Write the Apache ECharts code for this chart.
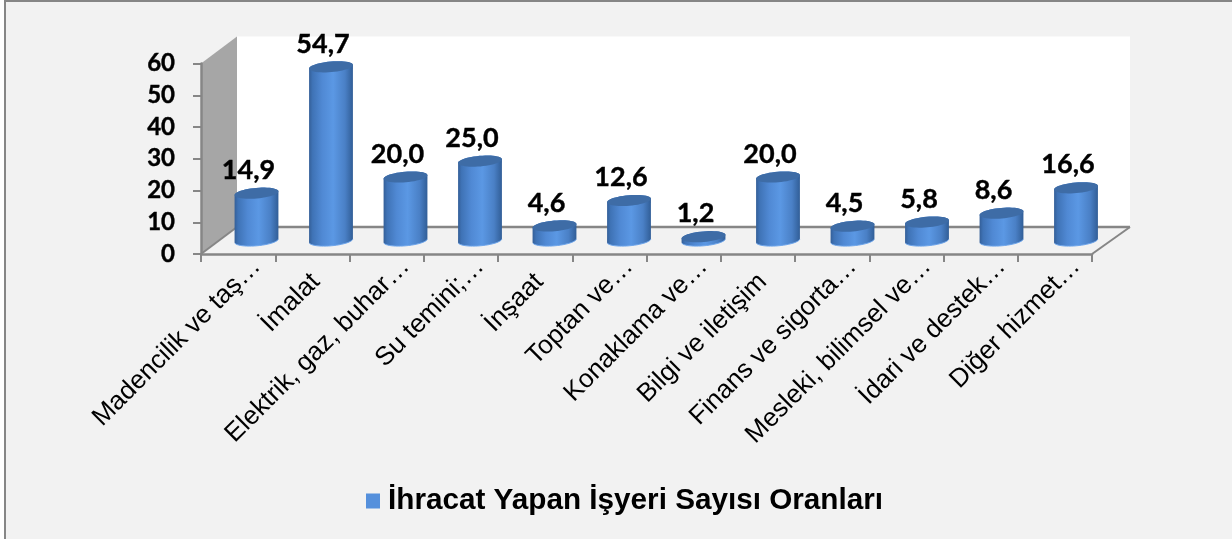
<!DOCTYPE html>
<html><head><meta charset="utf-8">
<style>html,body{margin:0;padding:0;background:#fff}#c{width:1232px;height:539px}</style>
<script src="https://cdn.jsdelivr.net/npm/echarts@6/dist/echarts.min.js"></script>
</head><body><div id="c"></div>
<script>
const categories = ['Madencilik ve taş…','İmalat','Elektrik, gaz, buhar…','Su temini;…','İnşaat','Toptan ve…','Konaklama ve…','Bilgi ve iletişim','Finans ve sigorta…','Mesleki, bilimsel ve…','İdari ve destek…','Diğer hizmet…'];
const values = [14.9,54.7,20.0,25.0,4.6,12.6,1.2,20.0,4.5,5.8,8.6,16.6];
const seriesName = 'İhracat Yapan İşyeri Sayısı Oranları';
const yTicks = {min:0,max:60,interval:10};

const chart = echarts.init(document.getElementById('c'),null,{renderer:'canvas'});
const DX=36, DXR=38, DY=-27, RX=22, RY=5.3, TILT=5*Math.PI/180;
const AXIS='#868686';

function ell(cx,cy,from,to,n){
  const pts=[];
  for(let i=0;i<=n;i++){
    const t=from+(to-from)*i/n, a=RX*Math.cos(t), b=RY*Math.sin(t);
    pts.push([cx+a*Math.cos(TILT)+b*Math.sin(TILT), cy-a*Math.sin(TILT)+b*Math.cos(TILT)]);
  }
  return pts;
}
function renderFrame(params){
  const g=params.coordSys, x0=g.x, x1=g.x+g.width, y0=g.y, y1=g.y+g.height;
  const line=(p,q,w)=>({type:'line',shape:{x1:p[0],y1:p[1],x2:q[0],y2:q[1]},style:{stroke:AXIS,lineWidth:w}});
  return {type:'group',children:[
    {type:'rect',shape:{x:x0+DX,y:y0+DY,width:x1+DXR-x0-DX,height:g.height},style:{fill:'#fff'}},
    {type:'polygon',shape:{points:[[x0,y0],[x0+DX,y0+DY],[x0+DX,y1+DY],[x0,y1]]},style:{fill:'#a6a6a6'}},
    {type:'polygon',shape:{points:[[x0,y1],[x0+DX,y1+DY],[x1+DXR,y1+DY],[x1,y1]]},style:{fill:'#f2f2f2'}},
    line([x0+DX,y1+DY],[x1+DXR,y1+DY],2.5),
    line([x0,y1],[x0+DX,y1+DY],2),
    line([x1,y1],[x1+DXR,y1+DY],2)
  ]};
}
function renderBar(params,api){
  const v=api.value(1), top=api.coord([api.value(0),v]), base=api.coord([api.value(0),0]);
  const cx=base[0];
  const body=ell(cx,top[1],Math.PI,2*Math.PI,24).concat(ell(cx,base[1],0,Math.PI,24));
  return {type:'group',children:[
    {type:'polygon',shape:{points:body},style:{fill:new echarts.graphic.LinearGradient(0,0,1,0,[
      {offset:0,color:'#345f98'},{offset:.08,color:'#3f73b6'},{offset:.3,color:'#5089d4'},{offset:.55,color:'#5b98e4'},{offset:.82,color:'#4a80c6'},{offset:1,color:'#315e97'}])}},
    {type:'polyline',shape:{points:ell(cx,base[1],.12,Math.PI-.12,24)},style:{stroke:'#6ea6ec',lineWidth:1,fill:'none'}},
    {type:'polygon',shape:{points:ell(cx,top[1],0,2*Math.PI,48)},style:{fill:'#3e6ca6'}},
    {type:'text',x:cx-8,y:top[1]-23,style:{text:v.toFixed(1).replace('.',','),fontFamily:'Lato',fontWeight:'bold',fontSize:27,fill:'#000',stroke:'#000',lineWidth:.4,align:'center',verticalAlign:'middle'}}
  ]};
}
chart.setOption({
  animation:false,
  graphic:{elements:[{type:'rect',z:-100,silent:true,shape:{x:5,y:1,width:1300,height:600},style:{fill:'#f2f2f2',stroke:AXIS,lineWidth:2}}]},
  grid:[
    {left:201,right:140,top:63.5,bottom:285},
    {left:219.25,right:118.75,top:50,bottom:298.5}
  ],
  legend:{data:[{name:seriesName,icon:'rect'}],left:361,top:481,itemWidth:14,itemHeight:15,
    textStyle:{fontFamily:'Liberation Sans',fontWeight:'bold',fontSize:29.7,color:'#000',padding:[0,0,0,3]}},
  xAxis:[
    {type:'category',gridIndex:0,data:categories,z:3,axisLabel:{show:false},
      axisLine:{show:true,lineStyle:{color:AXIS,width:2.5}},axisTick:{show:true,interval:0,length:8,lineStyle:{color:AXIS,width:2},alignWithLabel:false},splitLine:{show:false}},
    {type:'category',gridIndex:1,data:categories,z:3,axisLine:{show:false},axisTick:{show:false},splitLine:{show:false},
      axisLabel:{interval:0,rotate:45,margin:22,fontFamily:'Liberation Sans',fontSize:26,color:'#000',hideOverlap:false,
        formatter:s=>s.endsWith('…')?s:s+'\u00a0\u00a0\u00a0'}}
  ],
  yAxis:[
    {type:'value',gridIndex:0,...yTicks,z:3,axisLine:{show:true,lineStyle:{color:AXIS,width:2.5}},
      axisTick:{show:true,length:8,lineStyle:{color:AXIS,width:2}},splitLine:{show:false},
      axisLabel:{margin:26,padding:[6,0,0,0],fontFamily:'Lato',fontWeight:'bold',fontSize:24,color:'#000',textBorderColor:'#000',textBorderWidth:.4}},
    {type:'value',gridIndex:1,...yTicks,axisLine:{show:false},axisTick:{show:false},axisLabel:{show:false},splitLine:{show:false}}
  ],
  series:[
    {type:'custom',xAxisIndex:0,yAxisIndex:0,z:1,silent:true,data:[[0,0]],renderItem:renderFrame,clip:false},
    {type:'custom',name:seriesName,xAxisIndex:1,yAxisIndex:1,z:2,silent:true,clip:false,
      itemStyle:{color:'#5590dc'},encode:{x:0,y:1},
      data:values.map((v,i)=>[i,v]),renderItem:renderBar}
  ]
});
</script></body></html>
